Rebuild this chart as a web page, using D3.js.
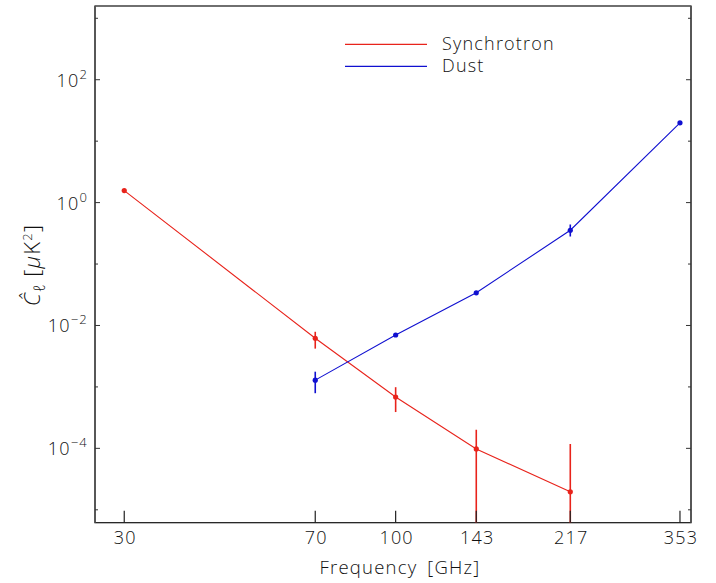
<!DOCTYPE html>
<html><head><meta charset="utf-8">
<script src="https://cdn.jsdelivr.net/npm/d3@7"></script>
<style>
body{margin:0;background:#fff;}
text{font-family:"Open Sans","DejaVu Sans",sans-serif;font-weight:300;fill:#111;letter-spacing:1.2px;}
</style></head>
<body><svg id="c" width="716" height="583"></svg>
<script>
const freqs = [30, 70, 100, 143, 217, 353];
const xTickLabels = ["30","70","100","143","217","353"];
const synchFreq = [30, 70, 100, 143, 217];
const synchVal  = [1.57, 0.0062, 6.85e-4, 9.8e-5, 1.96e-5];
const synchHi   = [1.57, 0.0079, 9.9e-4, 2.0e-4, 1.18e-4];
const synchLo   = [1.57, 0.0042, 3.9e-4, 1e-9, 1e-9];
const dustFreq  = [70, 100, 143, 217, 353];
const dustVal   = [1.29e-3, 7.0e-3, 0.034, 0.355, 19.9];
const dustHi    = [1.77e-3, 7.3e-3, 0.035, 0.44, 20.5];
const dustLo    = [7.9e-4, 6.7e-3, 0.033, 0.28, 19.3];
const yMajor = [1e-4, 1e-2, 1, 1e2];
const yMajorExp = ["−4","−2","0","2"];
const yMinor = [1e-5, 1e-3, 1e-1, 1e1, 1e3];
const seriesNames = ["Synchrotron", "Dust"];
const seriesColors = ["#e8231b", "#1010d0"];

const svg = d3.select("#c");
const L=95, R=691, T=6, B=522.7;
const x = d3.scaleLog().domain([26.35, 370.7]).range([L, R]);
const y = d3.scaleLog().domain([Math.pow(10,-5.21), Math.pow(10,3.20)]).range([B, T]);

svg.append("defs").append("clipPath").attr("id","clip")
  .append("rect").attr("x",L).attr("y",T).attr("width",R-L).attr("height",B-T);

// frame
svg.append("rect").attr("x",L).attr("y",T).attr("width",R-L).attr("height",B-T)
  .attr("fill","none").attr("stroke","#111").attr("stroke-width",1.2);
svg.append("line").attr("x1",L).attr("x2",L).attr("y1",T).attr("y2",B).attr("stroke","#555").attr("stroke-width",1.8);
svg.append("line").attr("x1",R).attr("x2",R).attr("y1",T).attr("y2",B).attr("stroke","#555").attr("stroke-width",1.8);

// y ticks
const g = svg.append("g");
yMajor.forEach((v,i)=>{
  g.append("line").attr("x1",L).attr("x2",L+5).attr("y1",y(v)).attr("y2",y(v)).attr("stroke","#333");
  g.append("line").attr("x1",R).attr("x2",R-5).attr("y1",y(v)).attr("y2",y(v)).attr("stroke","#333");
  const t = g.append("text").attr("x",88).attr("y",y(v)+7).attr("text-anchor","end").attr("font-size",18);
  t.append("tspan").text("10");
  t.append("tspan").attr("dy",-8).attr("font-size",13).text(yMajorExp[i]);
});
yMinor.forEach(v=>{
  g.append("line").attr("x1",L).attr("x2",L+3).attr("y1",y(v)).attr("y2",y(v)).attr("stroke","#333");
  g.append("line").attr("x1",R).attr("x2",R-3).attr("y1",y(v)).attr("y2",y(v)).attr("stroke","#333");
});
// x tick labels
freqs.forEach((f,i)=>{
  g.append("text").attr("x",x(f)+1).attr("y",544).attr("text-anchor","middle").attr("font-size",18).text(xTickLabels[i]);
});

// axis labels
const xl = svg.append("text").attr("x",400).attr("y",574).attr("text-anchor","middle").attr("font-size",18.5);
xl.append("tspan").text("Frequency");
xl.append("tspan").attr("dx",10).text("[GHz]");
const yl = svg.append("text").attr("transform","translate(40,265) rotate(-90)").attr("text-anchor","middle").attr("font-size",22);
yl.append("tspan").attr("font-style","italic").text("Ĉ");
yl.append("tspan").attr("font-style","italic").attr("font-size",16).attr("dy",5).text("ℓ");
yl.append("tspan").attr("dy",-5).attr("dx",6).text("[");
yl.append("tspan").attr("font-style","italic").text("μ");
yl.append("tspan").text("K");
yl.append("tspan").attr("dy",-8).attr("font-size",13).text("2");
yl.append("tspan").attr("dy",8).text("]");

// series
const plot = svg.append("g").attr("clip-path","url(#clip)");
const line = d3.line().x(d=>x(d[0])).y(d=>y(d[1]));
function drawSeries(fr, vals, hi, lo, col){
  const pts = fr.map((f,i)=>[f, vals[i]]);
  plot.append("path").attr("d",line(pts)).attr("fill","none").attr("stroke",col).attr("stroke-width",1.1);
  fr.forEach((f,i)=>{
    if (hi[i] !== lo[i]) {
      plot.append("line").attr("x1",x(f)).attr("x2",x(f)).attr("y1",y(hi[i])).attr("y2",y(lo[i]))
        .attr("stroke",col).attr("stroke-width",1.6);
    }
    plot.append("circle").attr("cx",x(f)).attr("cy",y(vals[i])).attr("r",2.6).attr("fill",col);
  });
}
drawSeries(synchFreq, synchVal, synchHi, synchLo, seriesColors[0]);
drawSeries(dustFreq, dustVal, dustHi, dustLo, seriesColors[1]);
// x ticks on top of error bars
freqs.forEach(f=>{
  svg.append("line").attr("x1",x(f)).attr("x2",x(f)).attr("y1",B).attr("y2",B-12).attr("stroke","#222").attr("stroke-width",1.2);
});

// legend
seriesNames.forEach((n,i)=>{
  const yy = 44.3 + i*22;
  svg.append("line").attr("x1",345).attr("x2",427).attr("y1",yy).attr("y2",yy).attr("stroke",seriesColors[i]).attr("stroke-width",1.2);
  svg.append("text").attr("x",442).attr("y",yy+6).attr("font-size",18).text(n);
});
</script></body></html>
